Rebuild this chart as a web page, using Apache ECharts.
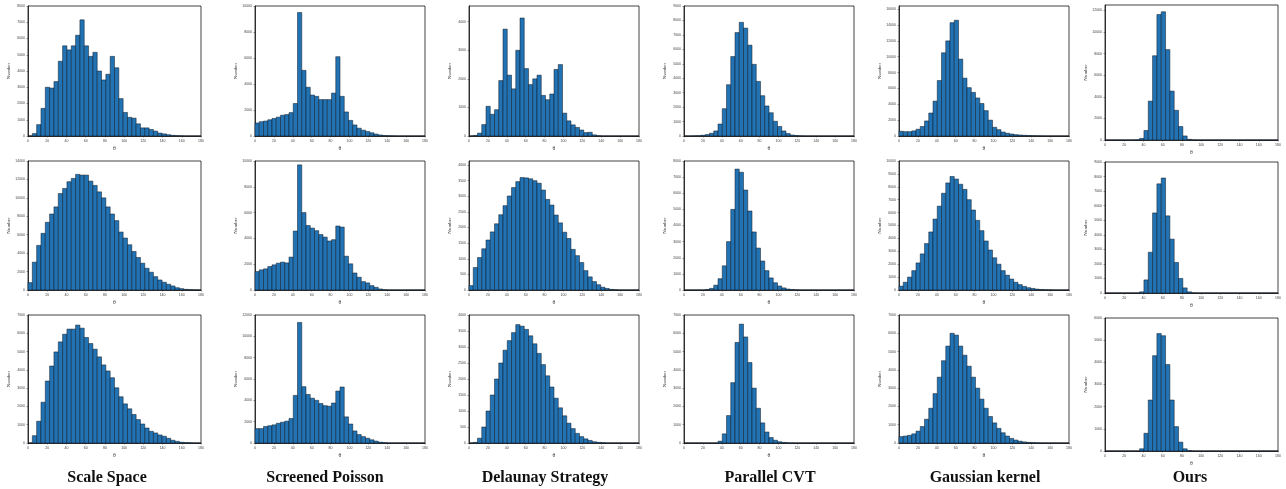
<!DOCTYPE html>
<html>
<head>
<meta charset="utf-8">
<script src="https://cdn.jsdelivr.net/npm/echarts@6/dist/echarts.min.js"></script>
<style>
  html, body { margin: 0; padding: 0; background: #fff; }
  #main { width: 1286px; height: 489px; }
</style>
</head>
<body>
<div id="main"></div>
<script>
// method names (column titles)
const methods = ['Scale Space', 'Screened Poisson', 'Delaunay Strategy', 'Parallel CVT', 'Gaussian kernel', 'Ours'];

// histogram bins: 40 bins of width 4.5 over theta 0..180
const binWidth = 4.5;
const binCount = 40;
const xTickMax = 180;
const xTickStep = 20;

// counts per bin, one array per panel (row 1..3)
const scaleSpace1 = [0, 150, 700, 1700, 3000, 2950, 3350, 4600, 5550, 5300, 5550, 6200, 7150, 5550, 4900, 5150, 4000, 3450, 3800, 4900, 4200, 2300, 1450, 1150, 1100, 750, 500, 500, 400, 300, 180, 130, 80, 40, 20, 10];
const scaleSpace2 = [800, 3020, 4840, 6150, 7350, 8250, 9020, 10470, 11020, 11750, 12110, 12550, 12470, 12470, 11820, 11350, 10650, 10000, 9020, 8250, 7530, 6290, 5640, 4910, 4180, 3530, 2910, 2360, 1930, 1450, 1090, 840, 620, 440, 250, 150, 70, 40, 20, 10];
const scaleSpace3 = [0, 400, 1190, 2230, 3390, 4210, 4980, 5530, 5950, 6230, 6230, 6450, 6280, 5770, 5440, 5130, 4710, 4270, 3940, 3570, 3020, 2530, 2140, 1870, 1560, 1280, 1040, 820, 640, 550, 440, 370, 260, 150, 90, 40, 20, 10];

const poisson1 = [1000, 1100, 1150, 1250, 1350, 1450, 1600, 1650, 1800, 2500, 9500, 5050, 3750, 3150, 3050, 2800, 2800, 2800, 3300, 6100, 3050, 1850, 1200, 850, 600, 450, 350, 250, 150, 80, 40, 20, 10];
const poisson2 = [1430, 1560, 1640, 1820, 1950, 2080, 2160, 2100, 2550, 4570, 9700, 6000, 5000, 4800, 4600, 4300, 4100, 3800, 3900, 4960, 4880, 2620, 2030, 1320, 990, 650, 550, 340, 210, 80, 20];
const poisson3 = [1350, 1350, 1550, 1620, 1700, 1850, 1950, 2050, 2300, 4460, 11300, 5280, 4550, 4200, 4000, 3700, 3500, 3450, 3750, 4870, 5250, 2450, 1780, 1130, 790, 600, 450, 300, 180, 80, 30];

const delaunay1 = [0, 20, 100, 400, 1040, 760, 920, 1940, 3740, 2130, 1650, 3000, 4130, 2360, 1800, 2000, 2130, 1420, 1270, 1470, 2330, 2500, 800, 530, 390, 300, 210, 120, 130, 40, 10];
const delaunay2 = [140, 720, 1040, 1320, 1600, 1860, 2120, 2410, 2700, 3010, 3280, 3470, 3600, 3590, 3560, 3500, 3420, 3200, 2900, 2720, 2400, 2150, 1850, 1650, 1300, 1100, 880, 620, 420, 270, 170, 90, 50, 20, 10];
const delaunay3 = [0, 20, 150, 500, 1000, 1500, 2000, 2500, 2900, 3200, 3450, 3700, 3650, 3550, 3350, 3100, 2800, 2450, 2100, 1750, 1400, 1100, 850, 620, 450, 300, 200, 130, 80, 40, 20, 10];

const parallel1 = [0, 0, 10, 20, 50, 100, 190, 350, 830, 1890, 3550, 5500, 7160, 7870, 7470, 6290, 4960, 3780, 2790, 2080, 1610, 1020, 660, 350, 170, 70, 30, 10];
const parallel2 = [0, 0, 0, 0, 0, 30, 100, 300, 700, 1500, 3000, 5000, 7500, 7300, 6200, 4900, 3600, 2600, 1800, 1200, 750, 450, 250, 130, 60, 30, 10];
const parallel3 = [0, 0, 0, 0, 0, 0, 0, 0, 100, 500, 1500, 3300, 5500, 6500, 5800, 4400, 3000, 1900, 1100, 600, 300, 150, 70, 30, 10];

const gaussian1 = [600, 550, 550, 650, 850, 1200, 1900, 2900, 4400, 7000, 10500, 12000, 14300, 14600, 9700, 7300, 6100, 5500, 4800, 4100, 3200, 2000, 1100, 800, 500, 350, 250, 170, 130, 90, 60, 40, 20, 10];
const gaussian2 = [300, 600, 1000, 1500, 2100, 2800, 3600, 4500, 5500, 6500, 7500, 8300, 8800, 8600, 8200, 7800, 7000, 6200, 5400, 4600, 3800, 3100, 2500, 2000, 1500, 1150, 850, 600, 420, 280, 180, 120, 70, 40, 20, 10];
const gaussian3 = [350, 380, 420, 500, 650, 900, 1300, 1900, 2700, 3600, 4500, 5300, 6000, 5900, 5300, 4800, 4200, 3600, 3000, 2400, 1900, 1450, 1100, 800, 560, 380, 250, 160, 100, 60, 35, 20, 10];

const ours1 = [0, 0, 0, 0, 0, 0, 0, 20, 150, 880, 3600, 7800, 11620, 11870, 8370, 4530, 2750, 1250, 375, 60, 10];
const ours2 = [0, 0, 0, 0, 0, 0, 0, 0, 80, 900, 2800, 5500, 7500, 7900, 5300, 3700, 2100, 1000, 350, 80, 10];
const ours3 = [0, 0, 0, 0, 0, 0, 0, 0, 100, 800, 2300, 4300, 5300, 5200, 3900, 2300, 1100, 400, 100, 20];

// panels[row][col]
const panels = [
  [scaleSpace1, poisson1, delaunay1, parallel1, gaussian1, ours1],
  [scaleSpace2, poisson2, delaunay2, parallel2, gaussian2, ours2],
  [scaleSpace3, poisson3, delaunay3, parallel3, gaussian3, ours3]
];

// y axis tick ranges [max, step]
const yTicks = [
  [[8000, 1000], [10000, 2000], [4550, 1000], [9000, 1000], [16400, 2000], [12500, 2000]],
  [[14000, 2000], [10000, 2000], [4130, 500], [8000, 1000], [10000, 1000], [9000, 1000]],
  [[7000, 1000], [12000, 2000], [4000, 500], [7000, 1000], [7000, 1000], [6000, 1000]]
];

// layout of the plot frames
const colLeft = [28, 255, 469, 684, 899, 1105];
const colWidth = [173, 170, 170, 170, 170, 173];
const rowTop = [6, 161, 315];
const rowHeight = [130, 129, 128];
const lastColTop = [5, 162, 318];
const lastColHeight = [135, 131, 133];

const barFill = '#2273b4';
const barEdge = '#0c1722';

function renderBar(params, api) {
  const p0 = api.coord([api.value(0), api.value(2)]);
  const p1 = api.coord([api.value(1), 0]);
  return {
    type: 'rect',
    shape: { x: p0[0], y: p0[1], width: p1[0] - p0[0], height: p1[1] - p0[1] },
    style: { fill: barFill, stroke: barEdge, lineWidth: 0.5 }
  };
}

const grids = [], xAxes = [], yAxes = [], series = [];
panels.forEach((row, r) => {
  row.forEach((counts, c) => {
    const idx = grids.length;
    const last = c === 5;
    grids.push({
      left: colLeft[c],
      top: last ? lastColTop[r] : rowTop[r],
      width: colWidth[c],
      height: last ? lastColHeight[r] : rowHeight[r],
      show: true,
      borderColor: '#111',
      borderWidth: 0.8,
      backgroundColor: 'transparent'
    });
    xAxes.push({
      gridIndex: idx,
      type: 'value',
      min: 0,
      max: xTickMax,
      interval: xTickStep,
      name: 'θ',
      nameLocation: 'middle',
      nameGap: 10,
      nameTextStyle: { fontSize: 5, color: '#333' },
      splitLine: { show: false },
      axisLine: { show: true, lineStyle: { color: '#111', width: 0.8 } },
      axisTick: { show: true, length: 1.5, lineStyle: { color: '#333', width: 0.5 } },
      axisLabel: { fontSize: 3.5, color: '#444', margin: 3 }
    });
    yAxes.push({
      gridIndex: idx,
      type: 'value',
      min: 0,
      max: yTicks[r][c][0],
      interval: yTicks[r][c][1],
      name: 'Number',
      nameLocation: 'middle',
      nameGap: 17,
      nameRotate: 90,
      nameTextStyle: { fontSize: 5, color: '#333', fontFamily: 'Liberation Serif' },
      splitLine: { show: false },
      axisLine: { show: true, lineStyle: { color: '#111', width: 0.8 } },
      axisTick: { show: true, length: 1.5, lineStyle: { color: '#333', width: 0.5 } },
      axisLabel: { fontSize: 3.5, color: '#444', margin: 3, showMaxLabel: yTicks[r][c][0] % yTicks[r][c][1] === 0, formatter: v => String(v) }
    });
    const data = [];
    for (let i = 0; i < binCount; i++) {
      data.push([i * binWidth, (i + 1) * binWidth, counts[i] || 0]);
    }
    series.push({
      type: 'custom',
      xAxisIndex: idx,
      yAxisIndex: idx,
      renderItem: renderBar,
      encode: { x: [0, 1], y: 2 },
      data: data,
      silent: true
    });
  });
});

const titleX = [107, 325, 545, 770, 985, 1190];
const graphics = methods.map((m, c) => ({
  type: 'text',
  x: titleX[c],
  y: 478,
  style: {
    text: m,
    fill: '#111',
    fontSize: 16,
    fontWeight: 'bold',
    fontFamily: 'Liberation Serif',
    align: 'center',
    verticalAlign: 'middle'
  }
}));

const chart = echarts.init(document.getElementById('main'), null, { renderer: 'canvas' });
chart.setOption({
  animation: false,
  grid: grids,
  xAxis: xAxes,
  yAxis: yAxes,
  series: series,
  graphic: graphics
});
</script>
</body>
</html>
